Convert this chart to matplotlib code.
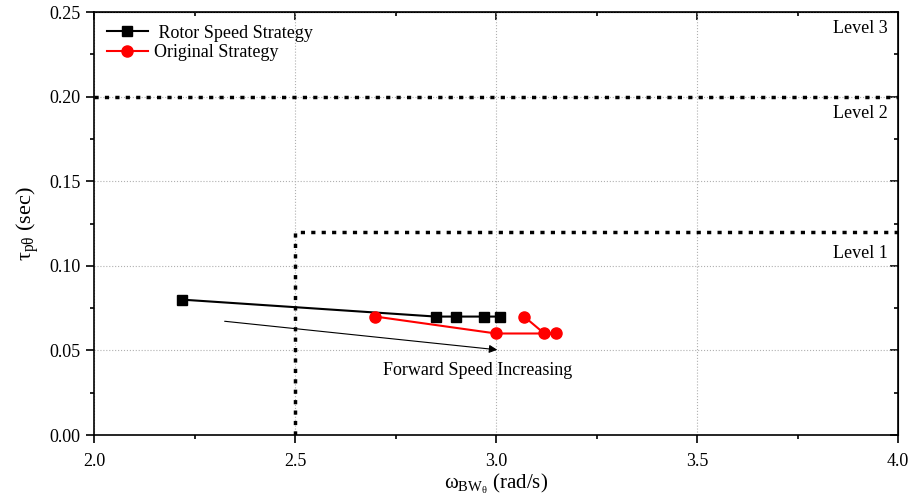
import numpy as np
import matplotlib.pyplot as plt
from matplotlib.ticker import MultipleLocator

plt.rcParams['font.family'] = ['Liberation Serif', 'DejaVu Serif']
plt.rcParams['mathtext.fontset'] = 'custom'
plt.rcParams['mathtext.rm'] = 'Liberation Serif'
plt.rcParams['mathtext.it'] = 'Liberation Serif'
plt.rcParams['mathtext.default'] = 'regular'

rotor_x = [2.22, 2.85, 2.90, 2.97, 3.01]
rotor_y = [0.08, 0.07, 0.07, 0.07, 0.07]
orig_x = [2.70, 3.00, 3.15, 3.12, 3.07]
orig_y = [0.07, 0.06, 0.06, 0.06, 0.07]

fig = plt.figure(figsize=(9.13, 4.94), dpi=100)
ax = fig.add_axes([0.103, 0.1194, 0.8806, 0.8563])

ax.grid(True, color='#b0b0b0', linestyle=':', linewidth=0.8)
ax.set_axisbelow(True)

# level boundaries
ax.plot([2.0, 4.0], [0.20, 0.20], color='black', linestyle=(0, (1.2, 1.8)), linewidth=2.5)
ax.plot([2.5, 2.5, 4.0], [0.0, 0.12, 0.12], color='black', linestyle=(0, (1.2, 1.8)), linewidth=2.5)

ax.plot(rotor_x, rotor_y, color='black', marker='s', markersize=7, linewidth=1.5,
        label=' Rotor Speed Strategy')
ax.plot(orig_x, orig_y, color='red', marker='o', markersize=8, linewidth=1.5,
        label='Original Strategy')

ax.annotate('', xy=(3.01, 0.0502), xytext=(2.318, 0.0674),
            arrowprops=dict(arrowstyle='-|>', color='black', lw=0.8, mutation_scale=12))
ax.text(2.953, 0.038, 'Forward Speed Increasing', fontsize=13, ha='center', va='center')

ax.text(3.975, 0.24, 'Level 3', fontsize=13, ha='right', va='center')
ax.text(3.975, 0.19, 'Level 2', fontsize=13, ha='right', va='center')
ax.text(3.975, 0.107, 'Level 1', fontsize=13, ha='right', va='center')

ax.set_xlim(2.0, 4.0)
ax.set_ylim(0.0, 0.25)
ax.xaxis.set_major_locator(MultipleLocator(0.5))
ax.xaxis.set_minor_locator(MultipleLocator(0.25))
ax.yaxis.set_major_locator(MultipleLocator(0.05))
ax.yaxis.set_minor_locator(MultipleLocator(0.025))
ax.xaxis.set_major_formatter(plt.FormatStrFormatter('%.1f'))
ax.yaxis.set_major_formatter(plt.FormatStrFormatter('%.2f'))
ax.tick_params(which='both', direction='out', labelsize=13, width=1.2)
ax.tick_params(which='major', length=6)
ax.tick_params(which='minor', length=3)
ax.tick_params(axis='x', which='major', pad=7)

top = ax.secondary_xaxis('top')
top.xaxis.set_major_locator(MultipleLocator(0.5))
top.xaxis.set_minor_locator(MultipleLocator(0.25))
top.tick_params(which='both', direction='in', labeltop=False, width=1.2)
top.tick_params(which='major', length=6)
top.tick_params(which='minor', length=3)
right = ax.secondary_yaxis('right')
right.yaxis.set_major_locator(MultipleLocator(0.05))
right.yaxis.set_minor_locator(MultipleLocator(0.025))
right.tick_params(which='both', direction='in', labelright=False, width=1.2)
right.tick_params(which='major', length=6)
right.tick_params(which='minor', length=3)

for s in ax.spines.values():
    s.set_linewidth(1.2)

ax.set_xlabel(r'$\omega_{\mathrm{BW}_\theta}$ (rad/s)', fontsize=15, labelpad=1)
ax.set_ylabel(r'$\tau_{p\theta}$ (sec)', fontsize=16, labelpad=6)

ax.legend(loc='upper left', frameon=False, fontsize=13, handlelength=2.3,
          handletextpad=0.3, borderaxespad=0.3, labelspacing=0.15)

fig.savefig('out.png', dpi=100)
